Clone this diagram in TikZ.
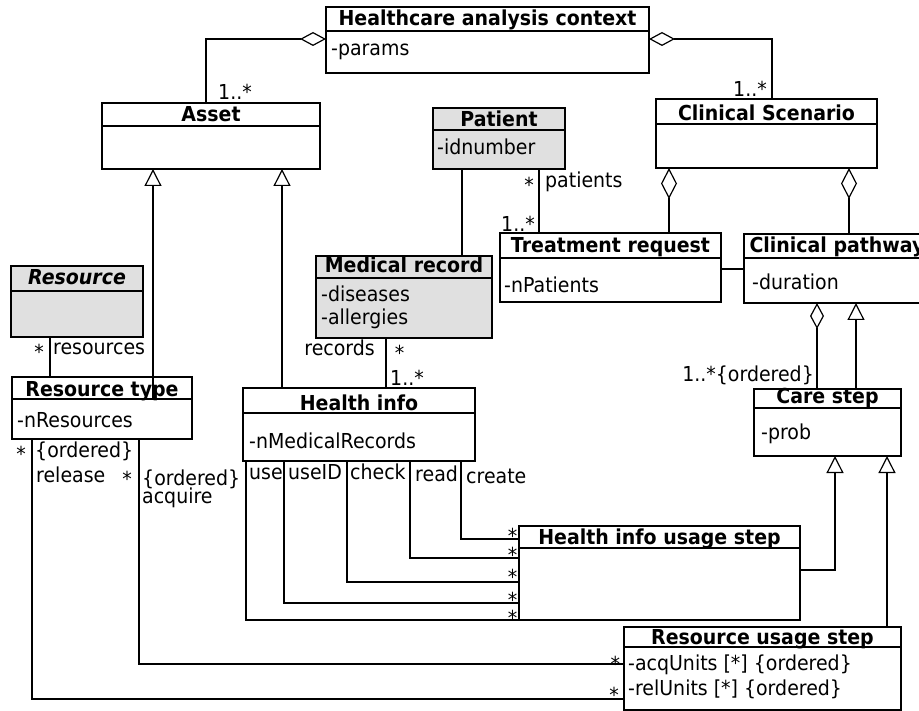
\documentclass[tikz,border=0pt]{standalone}
\usepackage{fontspec}
\setmainfont{DejaVu Sans}[FakeStretch=0.92]
\usetikzlibrary{arrows.meta,fit}
\definecolor{umlgray}{RGB}{224,224,224}
\newcommand\bigf{\fontsize{20.6}{24}\selectfont}
\tikzset{
  box/.style={draw=black, line width=1.8pt, inner sep=0pt, outer sep=0pt, fill=white},
  graybox/.style={fill=umlgray},
  sepline/.style={line width=1.6pt},
  conn/.style={line width=1.2pt},
  agg/.style={conn, {Diamond[open,length=26pt,width=14pt]}-},
  aggv/.style={conn, {Diamond[open,length=31pt,width=16pt]}-},
  inh/.style={conn, -{Triangle[open,length=17pt,width=17pt]}},
  titletext/.style={anchor=base, inner sep=0pt, font=\bigf\bfseries},
  attr/.style={anchor=base west, inner sep=0pt},
  lblw/.style={anchor=base west, inner sep=0pt},
  lble/.style={anchor=base east, inner sep=0pt},
  starlbl/.style={inner sep=0pt, yshift=-4.2pt},
}
\newcommand\umlclass[9]{%
  \node[box,#2,fit={(#3,#4) (#5,#6)}] (#1) {};
  \draw[sepline] (#3,#7) -- (#5,#7);
  \node[titletext] at ({(#3+#5)/2},#8) {#9};
}
\begin{document}
\begin{tikzpicture}[x=1pt,y=-1pt,font=\bigf]
\useasboundingbox (0,0) rectangle (919,711);
\clip (0,0) rectangle (919,711);

% classes
\umlclass{hac}{}{326}{7}{649}{73}{31}{26}{Healthcare analysis context}
\node[attr] at (331,56) {-params};
\umlclass{asset}{}{102}{103}{320}{169}{126}{122}{Asset}
\umlclass{cs}{}{656}{99}{877}{168}{124}{120.5}{Clinical Scenario}
\umlclass{patient}{graybox}{433}{108}{565}{169}{130}{127}{Patient}
\node[attr] at (437,155) {-idnumber};
\umlclass{resource}{graybox}{11}{266}{143}{337}{291}{285}{\itshape Resource}
\umlclass{mr}{graybox}{316}{256}{492}{338}{278}{272.5}{Medical record}
\node[attr] at (321,301.5) {-diseases};
\node[attr] at (321,325) {-allergies};
\umlclass{tr}{}{500}{233}{721}{302}{258}{252.5}{Treatment request}
\node[attr] at (504,293) {-nPatients};
\umlclass{cp}{}{744}{234}{930}{303}{258}{252.5}{Clinical pathway}
\node[attr] at (752,290) {-duration};
\umlclass{rt}{}{12}{377}{192}{439}{399}{397}{Resource type}
\node[attr] at (17,428) {-nResources};
\umlclass{hi}{}{243}{388}{475}{461}{413}{410}{Health info}
\node[attr] at (249,449) {-nMedicalRecords};
\umlclass{cstep}{}{754}{389}{901}{456}{408}{404}{Care step}
\node[attr] at (761,439.5) {-prob};
\umlclass{hius}{}{519}{526}{800}{620}{548}{544}{Health info usage step}
\umlclass{rus}{}{624}{627}{901}{710}{647}{644.5}{Resource usage step}
\node[attr] at (628,670) {-acqUnits [*] \{ordered\}};
\node[attr] at (628,695.5) {-relUnits [*] \{ordered\}};

% helper coordinates
\coordinate (k1) at (206,39);
\coordinate (k2) at (772,39);
\coordinate (k3) at (153,399);
\coordinate (k4) at (282,0);
\coordinate (k5) at (50,0);
\coordinate (k6) at (462,0);
\coordinate (k7) at (539,0);
\coordinate (k8) at (386,0);
\coordinate (k9) at (669,0);
\coordinate (k10) at (849,0);
\coordinate (k11) at (0,269);
\coordinate (k12) at (817,0);
\coordinate (k13) at (856,0);
\coordinate (k14) at (835,570);
\coordinate (k15) at (887,0);
\coordinate (h1) at (461,539);
\coordinate (h2) at (410,558);
\coordinate (h3) at (347,582);
\coordinate (h4) at (284,603);
\coordinate (h5) at (246,620);
\coordinate (r1) at (139,664);
\coordinate (r2) at (32,699);

% connectors
\draw[agg] (hac.west |- k1) -- (k1) -- (k1 |- asset.north);
\draw[agg] (hac.east |- k2) -- (k2) -- (k2 |- cs.north);
\draw[inh] (k3) -- (k3 |- asset.south);
\draw[inh] (k4 |- hi.north) -- (k4 |- asset.south);
\draw[conn] (k5 |- resource.south) -- (k5 |- rt.north);
\draw[conn] (k6 |- patient.south) -- (k6 |- mr.north);
\draw[conn] (k7 |- patient.south) -- (k7 |- tr.north);
\draw[conn] (k8 |- mr.south) -- (k8 |- hi.north);
\draw[aggv] (k9 |- cs.south) -- (k9 |- tr.north);
\draw[aggv] (k10 |- cs.south) -- (k10 |- cp.north);
\draw[conn] (tr.east |- k11) -- (cp.west |- k11);
\draw[agg] (k12 |- cp.south) -- (k12 |- cstep.north);
\draw[inh] (k13 |- cstep.north) -- (k13 |- cp.south);
\draw[inh] (hius.east |- k14) -- (k14) -- (k14 |- cstep.south);
\draw[inh] (k15 |- rus.north) -- (k15 |- cstep.south);
\draw[conn] (h1 |- hi.south) -- (h1) -- (hius.west |- h1);
\draw[conn] (h2 |- hi.south) -- (h2) -- (hius.west |- h2);
\draw[conn] (h3 |- hi.south) -- (h3) -- (hius.west |- h3);
\draw[conn] (h4 |- hi.south) -- (h4) -- (hius.west |- h4);
\draw[conn] (h5 |- hi.south) -- (h5) -- (hius.west |- h5);
\draw[conn] (r1 |- rt.south) -- (r1) -- (rus.west |- r1);
\draw[conn] (r2 |- rt.south) -- (r2) -- (rus.west |- r2);

% labels
\node[lblw] (l1) at (218,99.5) {1..*};
\node[lblw] (l2) at (733,97) {1..*};
\node[starlbl] (l3) at (39,347.5) {*};
\node[lblw] (l4) at (53,355) {resources};
\node[starlbl] (l5) at (529,181) {*};
\node[lblw] (l6) at (545,187.5) {patients};
\node[lblw] (l7) at (501,231.5) {1..*};
\node[lble] (l8) at (375,355.5) {records};
\node[starlbl] (l9) at (399.5,349) {*};
\node[lblw] (l10) at (390,385.5) {1..*};
\node[lble] (l11) at (814,381.5) {1..*\{ordered\}};
\node[starlbl] (l12) at (21,450) {*};
\node[lblw] (l13) at (35,457.5) {\{ordered\}};
\node[lblw] (l14) at (36,482.5) {release};
\node[starlbl] (l15) at (127,475) {*};
\node[lblw] (l16) at (142,485) {\{ordered\}};
\node[lblw] (l17) at (142,503.3) {acquire};
\node[lblw] (l18) at (249,479.5) {use};
\node[lblw] (l19) at (288,479.5) {useID};
\node[lblw] (l20) at (350,479.5) {check};
\node[lblw] (l21) at (415,482) {read};
\node[lblw] (l22) at (466,483) {create};
\node[starlbl] (s1) at (512.5,532) {*};
\node[starlbl] (s2) at (512.5,551) {*};
\node[starlbl] (s3) at (512.5,573) {*};
\node[starlbl] (s4) at (512.5,595.3) {*};
\node[starlbl] (s5) at (512.5,613.3) {*};
\node[starlbl] (s6) at (615.3,659.5) {*};
\node[starlbl] (s7) at (614,691) {*};
\end{tikzpicture}
\end{document}
